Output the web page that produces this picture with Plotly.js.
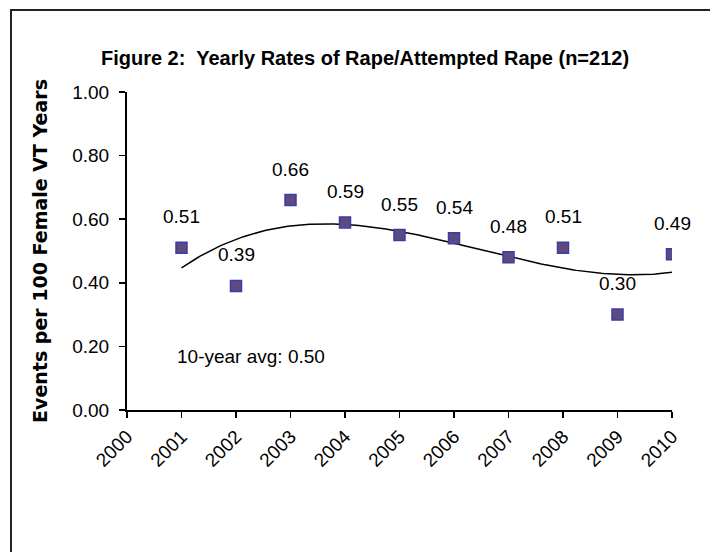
<!DOCTYPE html>
<html>
<head>
<meta charset="utf-8">
<script src="https://cdn.plot.ly/plotly-3.0.1.min.js"></script>
<style>html,body{margin:0;padding:0;background:#fff;}#chart{width:710px;height:552px;}</style>
</head>
<body>
<div id="chart"></div>
<script>
const years = [2001, 2002, 2003, 2004, 2005, 2006, 2007, 2008, 2009, 2010];
const rates = [0.51, 0.39, 0.66, 0.59, 0.55, 0.54, 0.48, 0.51, 0.30, 0.49];
const rateLabels = ['0.51', '0.39', '0.66', '0.59', '0.55', '0.54', '0.48', '0.51', '0.30', '0.49'];
const xTicks = [2000, 2001, 2002, 2003, 2004, 2005, 2006, 2007, 2008, 2009, 2010];
const yTicks = [0, 0.2, 0.4, 0.6, 0.8, 1.0];
const yTickLabels = ['0.00', '0.20', '0.40', '0.60', '0.80', '1.00'];
const avgText = '10-year avg: 0.50';

// Cubic polynomial trendline (least squares), as in the original spreadsheet chart
function polyFit(xs, ys, deg) {
  const n = deg + 1;
  const A = [];
  for (let i = 0; i < n; i++) { A.push(new Array(n + 1).fill(0)); }
  for (let k = 0; k < xs.length; k++) {
    for (let i = 0; i < n; i++) {
      for (let j = 0; j < n; j++) A[i][j] += Math.pow(xs[k], i + j);
      A[i][n] += ys[k] * Math.pow(xs[k], i);
    }
  }
  for (let c = 0; c < n; c++) {
    let p = c;
    for (let r = c + 1; r < n; r++) if (Math.abs(A[r][c]) > Math.abs(A[p][c])) p = r;
    [A[c], A[p]] = [A[p], A[c]];
    for (let r = 0; r < n; r++) {
      if (r === c) continue;
      const f = A[r][c] / A[c][c];
      for (let j = c; j <= n; j++) A[r][j] -= f * A[c][j];
    }
  }
  return A.map((row, i) => row[n] / row[i]);
}
const xsRel = years.map(y => y - 2000);
const coef = polyFit(xsRel, rates, 3);
const trendX = [], trendY = [];
for (let t = xsRel[0]; t <= xsRel[xsRel.length - 1] + 1e-9; t += 0.05) {
  trendX.push(2000 + t);
  trendY.push(coef.reduce((s, c, i) => s + c * Math.pow(t, i), 0));
}

const numFont = {family: '"Liberation Sans", Arial, sans-serif', size: 19, color: '#000'};

const traces = [
  {x: trendX, y: trendY, mode: 'lines', line: {color: '#000', width: 1.5}, hoverinfo: 'skip', showlegend: false},
  {x: years, y: rates, mode: 'markers', showlegend: false,
   marker: {symbol: 'square', size: 11, color: '#5f4a80', line: {color: '#3c3ca8', width: 1.5}}}
];

const L = 127, R = 38, T = 92, B = 142, W = 710, H = 552;
const pw = W - L - R, ph = H - T - B;

const annotations = years.map((yr, i) => ({
  x: yr, y: rates[i], xref: 'x', yref: 'y', text: rateLabels[i], showarrow: false,
  yshift: 31, font: numFont, xanchor: 'center', yanchor: 'middle'
}));
annotations.push({x: 2000.88, y: 0.167, xref: 'x', yref: 'y', text: avgText, showarrow: false,
  xanchor: 'left', yanchor: 'middle', font: numFont});

const layout = {
  width: W, height: H,
  margin: {l: L, r: R, t: T, b: B},
  paper_bgcolor: '#fff', plot_bgcolor: '#fff',
  title: {text: '<b>Figure 2:  Yearly Rates of Rape/Attempted Rape (n=212)</b>',
    font: {family: '"Liberation Sans", Arial, sans-serif', size: 20, color: '#000'},
    xref: 'container', x: 365 / W, xanchor: 'center', yref: 'container', y: 1 - 58 / H, yanchor: 'middle'},
  xaxis: {range: [2000, 2010], tickvals: xTicks, ticktext: xTicks.map(String), tickangle: -45,
    showgrid: false, zeroline: false, showline: true, linecolor: '#000', linewidth: 2,
    ticks: 'outside', ticklen: 6, tickwidth: 1.5, tickcolor: '#000', tickfont: numFont},
  yaxis: {range: [0, 1.0], tickvals: yTicks, ticktext: yTickLabels,
    showgrid: false, zeroline: false, showline: true, linecolor: '#000', linewidth: 2,
    ticks: 'outside', ticklen: 6, tickwidth: 1.5, tickcolor: '#000', tickfont: numFont,
    ticklabelstandoff: 6,
    title: {text: '<b>Events per 100 Female VT Years</b>', standoff: 20,
      font: {family: '"DejaVu Sans", Verdana, sans-serif', size: 19, color: '#000'}}},
  annotations: annotations,
  shapes: [{type: 'path', xref: 'paper', yref: 'paper', layer: 'above',
    path: `M ${(11 - L) / pw} ${(H - B - 700) / ph} L ${(11 - L) / pw} ${(H - B - 10) / ph} L ${(800 - L) / pw} ${(H - B - 10) / ph}`,
    line: {color: '#222', width: 2}}]
};

Plotly.newPlot('chart', traces, layout, {displayModeBar: false, staticPlot: true});
</script>
</body>
</html>
